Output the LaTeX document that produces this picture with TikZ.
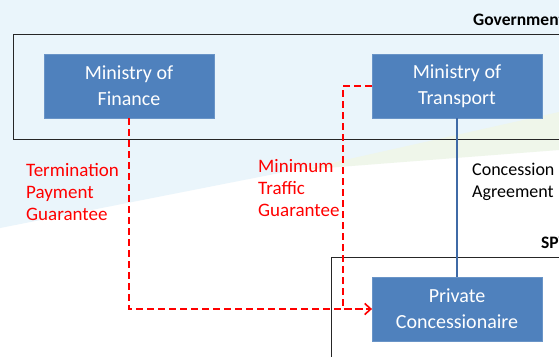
\documentclass[tikz,border=0pt]{standalone}
\usepackage{fontspec}
\setmainfont{Carlito}
\usetikzlibrary{arrows.meta,positioning}
\definecolor{boxblue}{HTML}{4F81BD}
\definecolor{lineblue}{HTML}{3F6AA6}
\definecolor{skyback}{HTML}{EAF5FB}
\definecolor{greenback}{HTML}{EFF6EA}
\tikzset{
    x=1pt,y=-1pt,semithick,
    agency/.style ={rectangle, draw=boxblue!85!white, fill=boxblue, text=white, minimum width=170pt, minimum height=64pt, inner sep=0pt, align=center, font=\fontsize{20}{26}\selectfont},
    group/.style ={draw=black!85, thin},
    grouplabel/.style ={anchor=west, inner sep=0pt, font=\bfseries\fontsize{17.5}{20}\selectfont},
    guarantee/.style={draw=red, line width=1.4pt, dash pattern=on 7pt off 4pt, -{Straight Barb[length=6pt,width=11pt]}},
    guarlabel/.style = {anchor=north west, inner sep=0pt, align=left, text=red, font=\fontsize{19}{22}\selectfont},
    contract/.style={draw=lineblue, line width=1.3pt}
}
\begin{document}
\begin{tikzpicture}
\clip (0,0) rectangle (559,356);
% background
\fill[white] (0,0) rectangle (559,356);
\fill[skyback] (0,0) -- (559,0) -- (559,118) -- (0,228) -- cycle;
\fill[greenback] (300,170) -- (559,112) -- (559,150) -- cycle;
% groups
\draw[group] (13,34) rectangle (600,139);
\draw[group] (331,257) rectangle (600,400);
\node[grouplabel] (govlabel) at (473,20) {Government};
\node[grouplabel] (spvlabel) at (541,243) {SPV};
% agencies
\node [agency] (fin) at (129,86) {Ministry of\\Finance};
\node [agency] (trans) at (457,86) {Ministry of\\Transport};
\node [agency] (conc) at (457,309) {Private\\Concessionaire};
% links
\draw [contract] (trans.south) -- (conc.north);
\draw [guarantee] (fin.south) |- (conc.west);
\draw [guarantee] (trans.west) -- ++(-29,0) |- (conc.west);
% labels
\node [guarlabel] (termlab) at (26,163) {Termination\\Payment\\Guarantee};
\node [guarlabel] (minlab) at (258,159) {Minimum\\Traffic\\Guarantee};
\node [guarlabel, text=black, font=\fontsize{18}{22}\selectfont] (conclab) at (472,163) {Concession\\Agreement};
\end{tikzpicture}
\end{document}
